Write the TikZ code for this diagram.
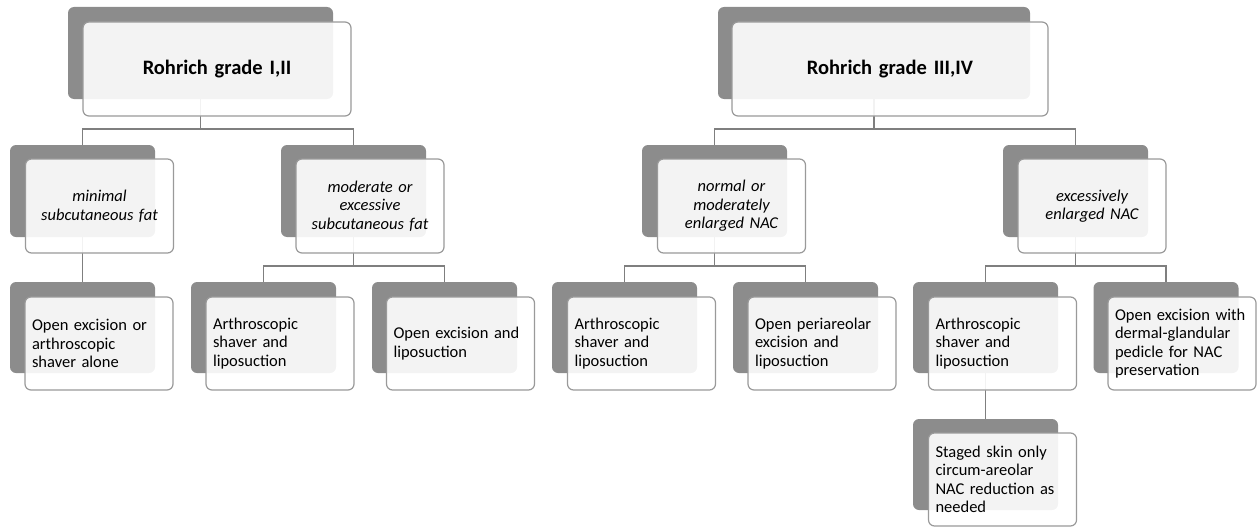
\documentclass[tikz,border=0pt]{standalone}
\usepackage{fontspec}
\setmainfont{Carlito}
\pgfdeclarelayer{bg}
\pgfsetlayers{bg,main}
\definecolor{backgray}{HTML}{8C8C8C}
\definecolor{bordergray}{HTML}{9A9A9A}
\definecolor{conngray}{HTML}{7F7F7F}
\tikzset{
  back/.style={fill=backgray, rounded corners=6pt, minimum width=145pt, minimum height=91pt, inner sep=0pt, outer sep=0pt},
  front/.style={draw=bordergray, line width=1.2pt, fill=white, fill opacity=0.9, text opacity=1, rounded corners=6pt,
     minimum width=148pt, minimum height=93pt, inner sep=0pt, outer sep=0pt, text width=134pt},
  rootback/.style={back, minimum height=92pt},
  rootfront/.style={front, minimum height=94pt, align=center, font=\fontsize{20.5}{24}\selectfont\bfseries},
  midfront/.style={front, minimum height=94pt, align=center, font=\fontsize{16.5}{18.5}\selectfont\itshape},
  leaffront/.style={front, align=left, font=\fontsize{16.5}{18.5}\selectfont},
  conn/.style={draw=conngray, line width=1.2pt}
}
\begin{document}
\begin{tikzpicture}[x=1pt,y=-1pt]
\useasboundingbox (0,0) rectangle (1257,527);
% roots
\node[rootback, minimum width=265pt] (r1b) at (200.5,53) {};
\node[rootfront, minimum width=268pt, text width=250pt] (r1) at (217,69) {Rohrich grade I,II};
\node[rootback, minimum width=312pt] (r2b) at (874,53) {};
\node[rootfront, minimum width=316pt, text width=300pt] (r2) at (890,69) {Rohrich grade III,IV};
% level 2
\node[back, minimum height=92pt] (m1b) at (82.5,191) {};
\node[midfront] (m1) at (99.5,206) {minimal\\subcutaneous fat};
\node[back, minimum height=92pt] (m2b) at (353.5,191) {};
\node[midfront] (m2) at (370,206) {moderate or\\excessive\\subcutaneous fat};
\node[back, minimum height=92pt] (m3b) at (714.5,191) {};
\node[midfront] (m3) at (731.5,206) {normal or\\moderately\\enlarged NAC};
\node[back, minimum height=92pt] (m4b) at (1075.5,191) {};
\node[midfront] (m4) at (1092,206) {excessively\\enlarged NAC};
% level 3
\node[back] (l1b) at (82.5,327.5) {};
\node[leaffront] (l1) at (99,343.5) {Open excision or\\arthroscopic\\shaver alone};
\node[back] (l2b) at (263.5,327.5) {};
\node[leaffront] (l2) at (280,343.5) {Arthroscopic\\shaver and\\liposuction};
\node[back] (l3b) at (444.5,327.5) {};
\node[leaffront] (l3) at (460.5,343.5) {Open excision and\\liposuction};
\node[back] (l4b) at (624.5,327.5) {};
\node[leaffront] (l4) at (641.5,343.5) {Arthroscopic\\shaver and\\liposuction};
\node[back] (l5b) at (805.5,327.5) {};
\node[leaffront] (l5) at (822,343.5) {Open periareolar\\excision and\\liposuction};
\node[back] (l6b) at (985.5,327.5) {};
\node[leaffront] (l6) at (1002.5,343.5) {Arthroscopic\\shaver and\\liposuction};
\node[back] (l7b) at (1166,327.5) {};
\node[leaffront] (l7) at (1182,343.5) {Open excision with\\dermal-glandular\\pedicle for NAC\\preservation};
% level 4
\node[back] (s1b) at (985.5,464.5) {};
\node[leaffront] (s1) at (1002.5,479.5) {Staged skin only\\circum-areolar\\NAC reduction as\\needed};
% connectors
\begin{pgfonlayer}{bg}
\draw[conn] (r1b.south) -- ++(0,30) coordinate (j1);
\draw[conn] (j1) -| (m1b.north);
\draw[conn] (j1) -| (m2b.north);
\draw[conn] (r2b.south) -- ++(0,30) coordinate (j2);
\draw[conn] (j2) -| (m3b.north);
\draw[conn] (j2) -| (m4b.north);
\draw[conn] (m1b.south) -- (l1b.north);
\draw[conn] (m2b.south) -- ++(0,29) coordinate (j3);
\draw[conn] (j3) -| (l2b.north);
\draw[conn] (j3) -| (l3b.north);
\draw[conn] (m3b.south) -- ++(0,29) coordinate (j4);
\draw[conn] (j4) -| (l4b.north);
\draw[conn] (j4) -| (l5b.north);
\draw[conn] (m4b.south) -- ++(0,29) coordinate (j5);
\draw[conn] (j5) -| (l6b.north);
\draw[conn] (j5) -| (l7b.north);
\draw[conn] (l6b.south) -- (s1b.north);
\end{pgfonlayer}
\end{tikzpicture}
\end{document}
